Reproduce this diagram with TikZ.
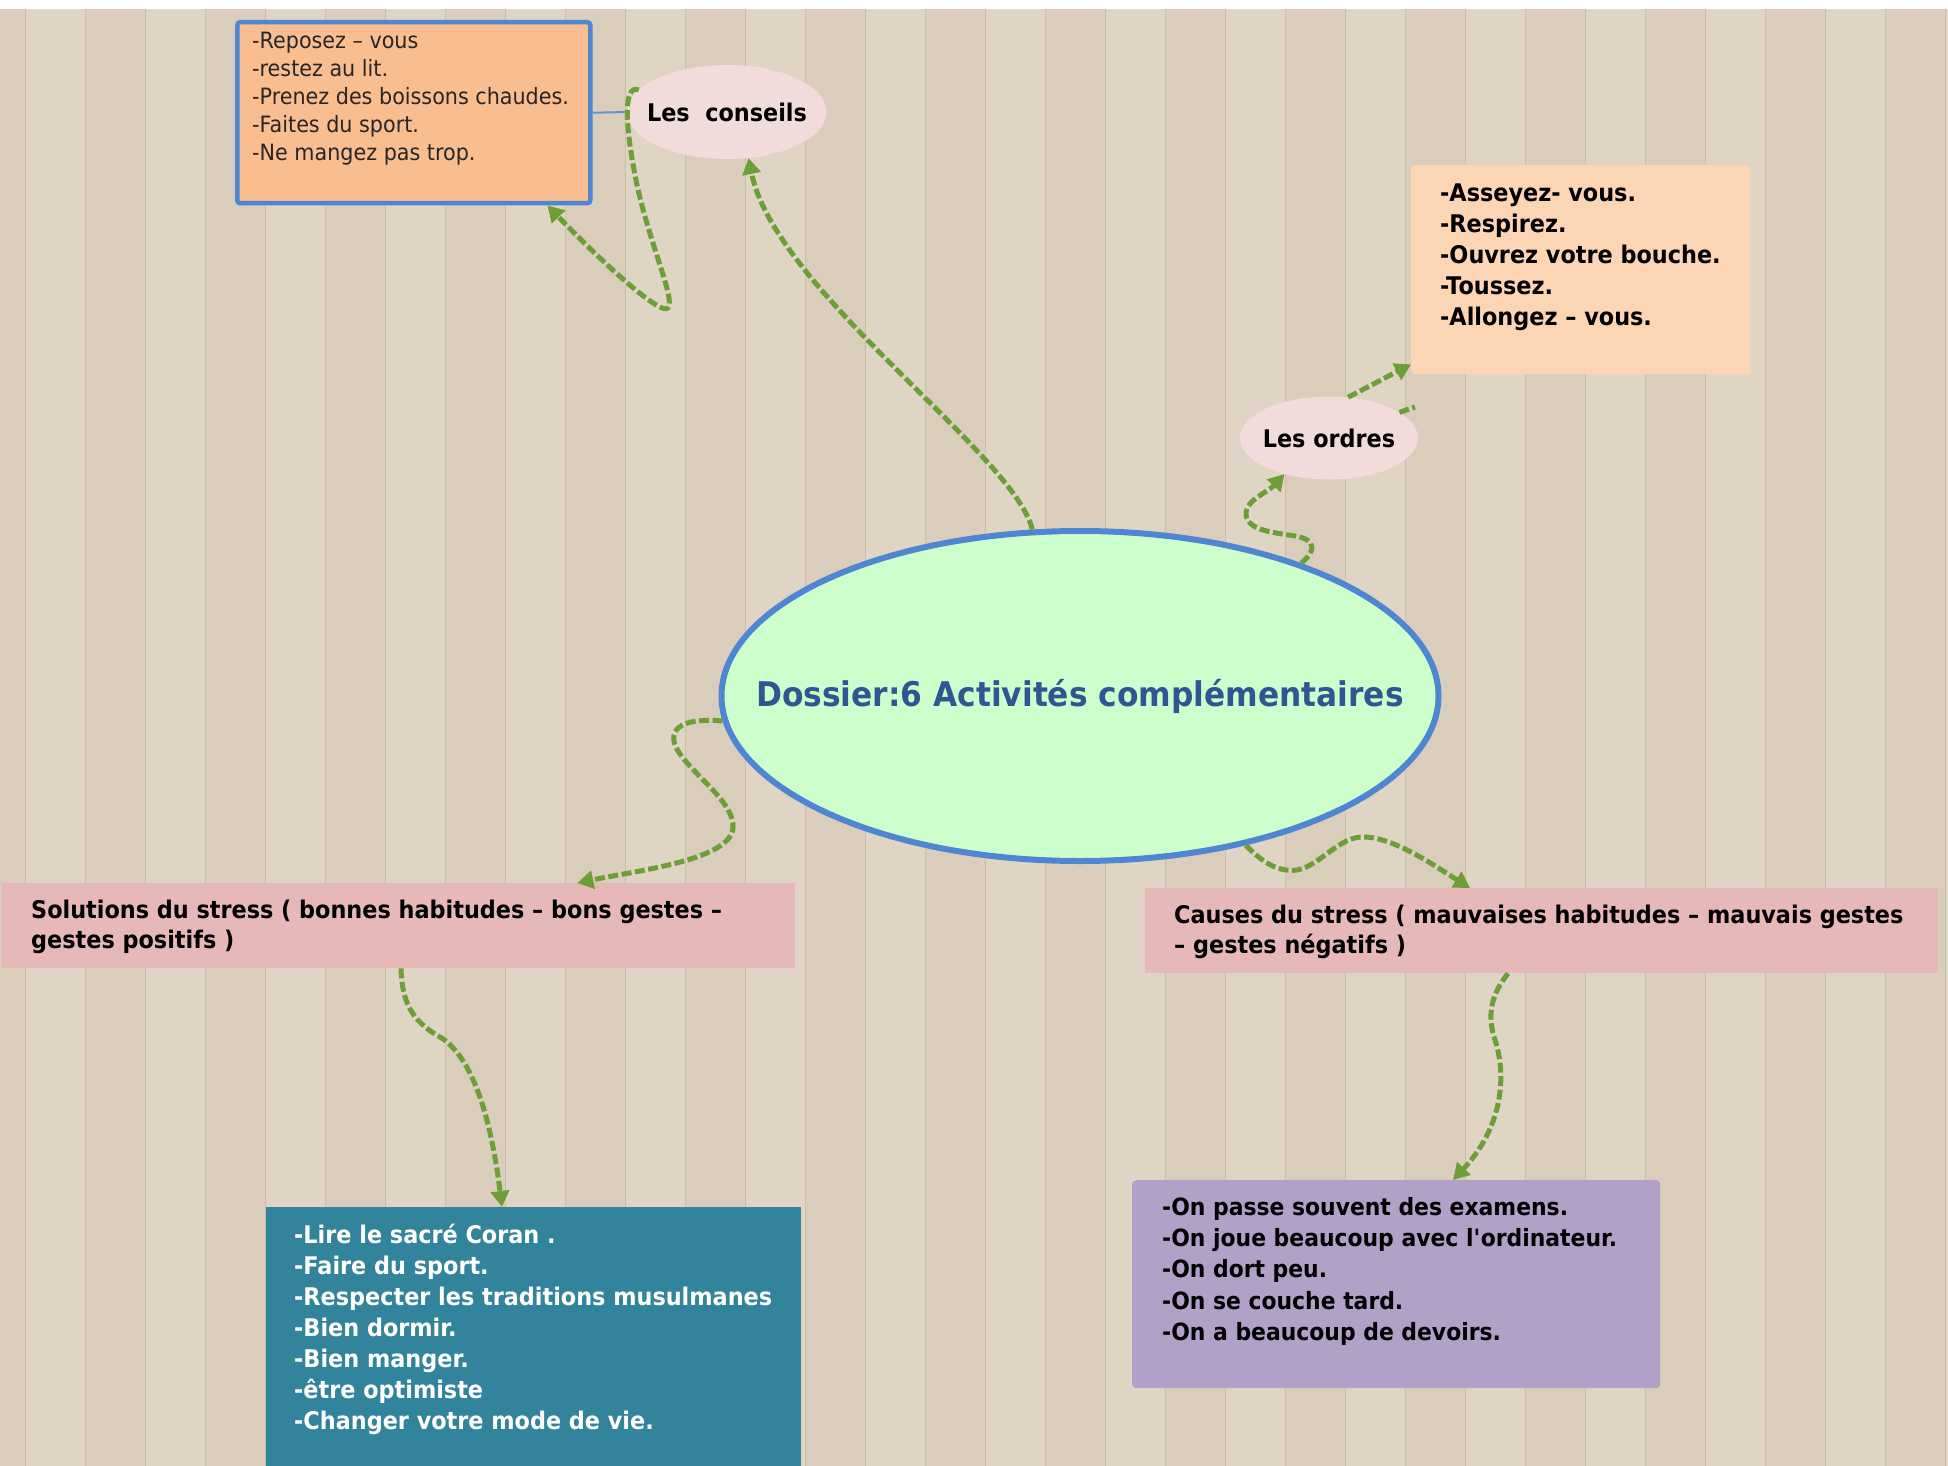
\documentclass[tikz,border=0pt]{standalone}
\usepackage{fontspec}
\setmainfont{DejaVu Sans}[FakeStretch=0.92]
\usetikzlibrary{positioning,shapes.geometric,arrows.meta}
\definecolor{wood}{HTML}{DACDBB}
\definecolor{woodlight}{HTML}{E0D5C5}
\definecolor{seam}{HTML}{CDBEAA}
\definecolor{linkgreen}{HTML}{6E9E38}
\definecolor{bubblepink}{HTML}{F2DCDB}
\definecolor{frameblue}{HTML}{4F86D2}
\definecolor{titleblue}{HTML}{2E5690}
\definecolor{orangebox}{HTML}{F9BE8F}
\definecolor{peachbox}{HTML}{FCD5B4}
\definecolor{rosebox}{HTML}{E6B9B8}
\definecolor{tealbox}{HTML}{31849B}
\definecolor{lilacbox}{HTML}{B2A1C7}
\definecolor{mint}{HTML}{CCFFCC}

\begin{document}
\begin{tikzpicture}[x=1pt,y=-1pt,
    bubble/.style = {ellipse, fill=bubblepink, inner sep=0pt, font=\fontsize{24.3}{30}\selectfont\bfseries},
    panel/.style = {anchor=north west, inner sep=0pt},
    listtext/.style = {anchor=north west, inner sep=0pt, align=left, font=\fontsize{24.3}{31}\selectfont\bfseries},
    link/.style = {draw=linkgreen, line width=5pt, dash pattern=on 10pt off 3.5pt, -{Triangle[length=16pt,width=18pt]}}]
        \useasboundingbox (0,0) rectangle (1948,1466);
        % wooden wall
        \fill[white] (0,0) rectangle (1948,1466);
        \fill[wood] (0,9) rectangle (1948,1466);
        \foreach \x in {25,145,...,1945}
            \fill[woodlight] (\x,9) rectangle +(60,1457);
        \foreach \x in {25,85,...,1945}
            \draw[seam, line width=1pt] (\x,9) -- (\x,1466);
        %
        \node[ellipse, draw=frameblue, line width=6pt, fill=mint, minimum width=717pt, minimum height=330pt, inner sep=0pt, text=titleblue, font=\fontsize{34}{40}\selectfont\bfseries] (dossier) at (1080,696) {\makebox[0pt]{Dossier:6 Activités complémentaires}};
        \node[bubble, minimum width=199pt, minimum height=94pt] (conseils) at (727,112) {\makebox[0pt]{Les~~conseils}};
        \node[bubble, minimum width=178pt, minimum height=83pt] (ordres) at (1329,438) {\makebox[0pt]{Les ordres}};
        %
        \node[panel, draw=frameblue, line width=4.5pt, fill=orangebox, rounded corners=3pt, minimum width=353pt, minimum height=181pt] (conseilsbox) at (235,20) {};
        \node[panel, fill=peachbox, rounded corners=4pt, minimum width=339pt, minimum height=209pt] (ordresbox) at (1411,165) {};
        \node[panel, fill=rosebox, minimum width=793pt, minimum height=85pt] (solutions) at (2,883) {};
        \node[panel, fill=rosebox, minimum width=793pt, minimum height=85pt] (causes) at (1145,888) {};
        \node[panel, fill=tealbox, minimum width=535pt, minimum height=259pt] (remedes) at (266,1207) {};
        \node[panel, fill=lilacbox, rounded corners=4pt, minimum width=528pt, minimum height=208pt] (habitudes) at (1132,1180) {};
        %
        \node[listtext, font=\fontsize{22.5}{28}\selectfont, text=black!85, below right=12pt and 17pt of conseilsbox.north west] (conseilslist) {-Reposez – vous\\-restez au lit.\\-Prenez des boissons chaudes.\\-Faites du sport.\\-Ne mangez pas trop.};
        \node[listtext, below right=19pt and 29pt of ordresbox.north west] (ordreslist) {-Asseyez- vous.\\-Respirez.\\-Ouvrez votre bouche.\\-Toussez.\\-Allongez – vous.};
        \node[listtext, font=\fontsize{24.3}{30}\selectfont\bfseries, below right=16.5pt and 29pt of solutions.north west] (solutionstext) {Solutions du stress ( bonnes habitudes – bons gestes –\\gestes positifs )};
        \node[listtext, font=\fontsize{24.3}{30}\selectfont\bfseries, below right=16.5pt and 29pt of causes.north west] (causestext) {Causes du stress ( mauvaises habitudes – mauvais gestes\\– gestes négatifs )};
        \node[listtext, text=white, below right=16.6pt and 28pt of remedes.north west] (remedeslist) {-Lire le sacré Coran .\\-Faire du sport.\\-Respecter les traditions musulmanes\\-Bien dormir.\\-Bien manger.\\-être optimiste\\-Changer votre mode de vie.};
        \node[listtext, font=\fontsize{23.8}{31.25}\selectfont\bfseries, below right=17pt and 30pt of habitudes.north west] (habitudeslist) {-On passe souvent des examens.\\-On joue beaucoup avec l\textquotesingle ordinateur.\\-On dort peu.\\-On se couche tard.\\-On a beaucoup de devoirs.};
        %
        \coordinate (stub) at (1415,407);
        \draw[frameblue!90, line width=2pt] (conseilsbox.east) -- (conseils.west);
        \draw[link] (dossier.106) .. controls (1015,455) and (775,290) .. (conseils.-65);
        \draw[link] (conseils.166) .. controls (624,84) and (624,120) .. (636,180) .. controls (648,240) and (676,300) .. (668,308) .. controls (660,316) and (600,260) .. ([xshift=-45pt]conseilsbox.south east);
        \draw[link] (dossier.31) .. controls (1315,552) and (1318,540) .. (1295,536) .. controls (1270,532) and (1245,530) .. (1246,512) .. controls (1247,500) and (1268,492) .. (ordres.219);
        \draw[link] (ordres.65) -- ([yshift=10pt]ordresbox.south west);
        \draw[link, -] (ordres.20) -- (stub);
        \draw[link] (dossier.184) .. controls (690,718) and (668,725) .. (675,745) .. controls (685,770) and (735,800) .. (733,828) .. controls (730,860) and (640,870) .. ([xshift=-218pt]solutions.north east);
        \draw[link] (dossier.-42) .. controls (1265,865) and (1280,872) .. (1297,870) .. controls (1320,866) and (1340,835) .. (1365,837) .. controls (1395,838) and (1435,866) .. ([xshift=325pt]causes.north west);
        \draw[link] ([xshift=399pt]solutions.south west) .. controls (402,1000) and (410,1020) .. (440,1037) .. controls (470,1055) and (490,1110) .. ([xshift=236pt]remedes.north west);
        \draw[link] ([xshift=363pt]causes.south west) .. controls (1495,990) and (1485,1010) .. (1495,1040) .. controls (1508,1080) and (1500,1130) .. ([xshift=321pt]habitudes.north west);
\end{tikzpicture}
\end{document}
